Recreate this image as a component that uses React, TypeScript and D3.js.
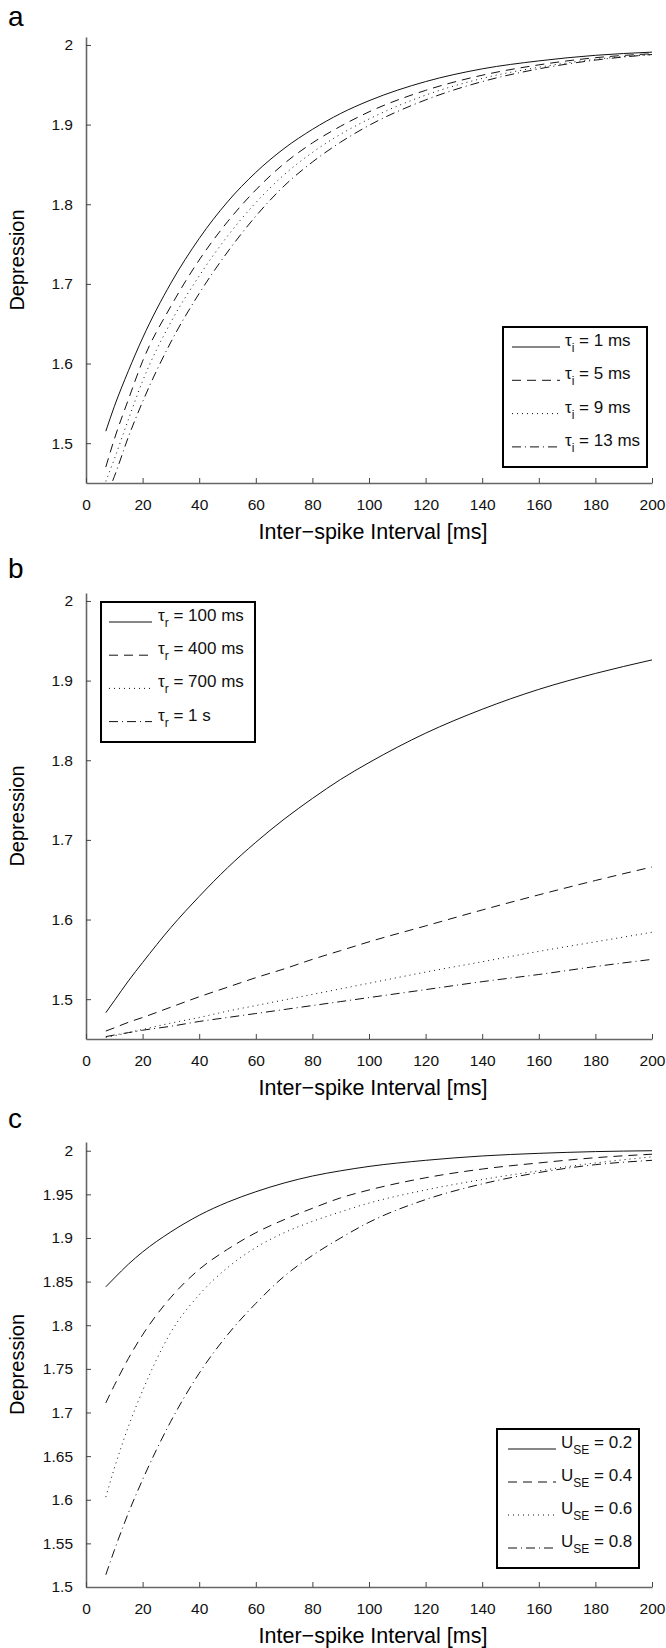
import React, { useEffect, useRef } from "react";
import * as d3 from "d3";

// Page / plot geometry
const WIDTH = 666;
const HEIGHT = 1648;
const PLOT_LEFT = 86;
const PLOT_RIGHT = 652;
const FONT = "'Liberation Sans', Arial, Helvetica, sans-serif";
const AXIS_COLOR = "#666";

// Inter-spike intervals (ms) at which the curves were read
const isi = [7, 10, 15, 20, 30, 40, 50, 60, 70, 80, 90, 100, 120, 140, 160, 180, 200];
const xTicks = [0, 20, 40, 60, 80, 100, 120, 140, 160, 180, 200];
const yTicksAB = [1.5, 1.6, 1.7, 1.8, 1.9, 2];
const yTicksC = [1.5, 1.55, 1.6, 1.65, 1.7, 1.75, 1.8, 1.85, 1.9, 1.95, 2];

// Panel a: inactivation time constant
const tauILabels = ["1 ms", "5 ms", "9 ms", "13 ms"];
const tauI1 = [1.515, 1.546, 1.591, 1.632, 1.701, 1.757, 1.803, 1.84, 1.87, 1.894, 1.914, 1.93, 1.954, 1.97, 1.98, 1.987, 1.991];
const tauI5 = [1.47, 1.505, 1.555, 1.603, 1.672, 1.73, 1.778, 1.818, 1.851, 1.877, 1.898, 1.916, 1.943, 1.962, 1.975, 1.984, 1.989];
const tauI9 = [1.452, 1.48, 1.53, 1.578, 1.652, 1.71, 1.76, 1.802, 1.837, 1.865, 1.888, 1.907, 1.937, 1.958, 1.972, 1.982, 1.988];
const tauI13 = [1.432, 1.458, 1.508, 1.552, 1.627, 1.688, 1.74, 1.785, 1.823, 1.853, 1.878, 1.899, 1.931, 1.954, 1.97, 1.981, 1.988];

// Panel b: recovery time constant
const tauRLabels = ["100 ms", "400 ms", "700 ms", "1 s"];
const tauR100 = [1.483, 1.498, 1.523, 1.546, 1.59, 1.629, 1.665, 1.697, 1.726, 1.752, 1.776, 1.797, 1.834, 1.864, 1.889, 1.909, 1.926];
const tauR400 = [1.46, 1.464, 1.471, 1.477, 1.49, 1.503, 1.515, 1.527, 1.538, 1.55, 1.561, 1.572, 1.592, 1.612, 1.631, 1.649, 1.666];
const tauR700 = [1.452, 1.454, 1.458, 1.462, 1.47, 1.477, 1.485, 1.492, 1.499, 1.506, 1.513, 1.52, 1.534, 1.547, 1.56, 1.572, 1.584];
const tauR1000 = [1.453, 1.455, 1.458, 1.461, 1.466, 1.472, 1.477, 1.482, 1.487, 1.492, 1.497, 1.502, 1.512, 1.522, 1.531, 1.541, 1.55];

// Panel c: utilization of synaptic efficacy
const useLabels = ["0.2", "0.4", "0.6", "0.8"];
const use02 = [1.844, 1.854, 1.87, 1.884, 1.907, 1.926, 1.941, 1.953, 1.963, 1.971, 1.977, 1.982, 1.989, 1.994, 1.997, 1.999, 2.0];
const use04 = [1.711, 1.731, 1.762, 1.789, 1.832, 1.864, 1.887, 1.906, 1.921, 1.934, 1.946, 1.955, 1.969, 1.979, 1.986, 1.992, 1.996];
const use06 = [1.603, 1.636, 1.684, 1.725, 1.792, 1.835, 1.866, 1.889, 1.906, 1.919, 1.93, 1.94, 1.955, 1.967, 1.977, 1.986, 1.993];
const use08 = [1.514, 1.542, 1.585, 1.623, 1.69, 1.745, 1.789, 1.825, 1.856, 1.88, 1.9, 1.918, 1.944, 1.962, 1.975, 1.984, 1.989];

// solid, dashed, dotted, dash-dot
const DASHES = [null, "9,6", "1,4", "9,4,1,4"];

const PANELS = [
  {
    letter: "a", letterY: 26, top: 37, bottom: 483,
    yDomain: [1.45, 2.01], yTicks: yTicksAB,
    series: [tauI1, tauI5, tauI9, tauI13],
    sym: "\u03c4", sub: "i", labels: tauILabels.map((l) => " = " + l),
    legend: { x: 503, y: 327, w: 144, h: 140, lx1: 512, lx2: 560, tx: 565, row0: 347, step: 33.3 }
  },
  {
    letter: "b", letterY: 578, top: 593, bottom: 1039,
    yDomain: [1.45, 2.01], yTicks: yTicksAB,
    series: [tauR100, tauR400, tauR700, tauR1000],
    sym: "\u03c4", sub: "r", labels: tauRLabels.map((l) => " = " + l),
    legend: { x: 101, y: 602, w: 154, h: 140, lx1: 109, lx2: 152, tx: 158, row0: 622, step: 33.2 }
  },
  {
    letter: "c", letterY: 1128, top: 1142, bottom: 1587,
    yDomain: [1.5, 2.01], yTicks: yTicksC,
    series: [use02, use04, use06, use08],
    sym: "U", sub: "SE", labels: useLabels.map((l) => " = " + l),
    legend: { x: 497, y: 1429, w: 142, h: 139, lx1: 508, lx2: 556, tx: 561, row0: 1449, step: 33 }
  }
];

function drawPanel(svg, p, idx) {
  const x = d3.scaleLinear().domain([0, 200]).range([PLOT_LEFT, PLOT_RIGHT]);
  const y = d3.scaleLinear().domain(p.yDomain).range([p.bottom, p.top]);

  svg.append("text")
    .attr("x", 8)
    .attr("y", p.letterY)
    .style("font-family", FONT)
    .style("font-size", "28px")
    .text(p.letter);

  const clipId = "clip-" + idx;
  svg.append("clipPath").attr("id", clipId)
    .append("rect")
    .attr("x", PLOT_LEFT).attr("y", p.top)
    .attr("width", PLOT_RIGHT - PLOT_LEFT).attr("height", p.bottom - p.top);

  const line = d3.line()
    .x((d) => x(d[0]))
    .y((d) => y(d[1]))
    .curve(d3.curveMonotoneX);

  p.series.forEach((vals, i) => {
    svg.append("path")
      .attr("clip-path", `url(#${clipId})`)
      .attr("d", line(isi.map((t, k) => [t, vals[k]])))
      .attr("fill", "none")
      .attr("stroke", "#111")
      .attr("stroke-width", 1)
      .attr("stroke-dasharray", DASHES[i]);
  });

  // axes, ticks pointing inward
  const yAxis = svg.append("g")
    .attr("transform", `translate(${PLOT_LEFT},0)`)
    .call(d3.axisLeft(y).tickValues(p.yTicks).tickSizeInner(-5).tickSizeOuter(0).tickPadding(13)
      .tickFormat((d) => String(+d.toFixed(2))));
  const xAxis = svg.append("g")
    .attr("transform", `translate(0,${p.bottom})`)
    .call(d3.axisBottom(x).tickValues(xTicks).tickSizeInner(-5).tickSizeOuter(0).tickPadding(16));
  [yAxis, xAxis].forEach((g) => {
    g.select(".domain").attr("stroke", AXIS_COLOR).attr("stroke-width", 1.6);
    g.selectAll(".tick line").attr("stroke", "#444");
    g.selectAll(".tick text")
      .attr("fill", "#111")
      .style("font-family", FONT)
      .style("font-size", "15.5px");
  });

  svg.append("text")
    .attr("x", (PLOT_LEFT + PLOT_RIGHT) / 2 + 4)
    .attr("y", p.bottom + 56)
    .attr("text-anchor", "middle")
    .style("font-family", FONT)
    .style("font-size", "21.5px")
    .text("Inter\u2212spike Interval [ms]");

  svg.append("text")
    .attr("transform", `translate(24,${(p.top + p.bottom) / 2}) rotate(-90)`)
    .attr("text-anchor", "middle")
    .style("font-family", FONT)
    .style("font-size", "20px")
    .text("Depression");

  // legend
  const L = p.legend;
  svg.append("rect")
    .attr("x", L.x).attr("y", L.y)
    .attr("width", L.w).attr("height", L.h)
    .attr("fill", "#fff")
    .attr("stroke", "#000")
    .attr("stroke-width", 2);
  p.labels.forEach((lab, i) => {
    const ry = L.row0 + i * L.step;
    svg.append("line")
      .attr("x1", L.lx1).attr("x2", L.lx2)
      .attr("y1", ry).attr("y2", ry)
      .attr("stroke", "#111")
      .attr("stroke-width", 1)
      .attr("stroke-dasharray", DASHES[i]);
    const t = svg.append("text")
      .attr("x", L.tx)
      .attr("y", ry - 1)
      .style("font-family", FONT)
      .style("font-size", "17px")
      .attr("fill", "#111");
    t.append("tspan").text(p.sym);
    t.append("tspan").attr("dy", 6).style("font-size", "12px").text(p.sub);
    t.append("tspan").attr("dy", -6).text(lab);
  });
}

export default function App() {
  const svgRef = useRef(null);

  useEffect(() => {
    const svg = d3.select(svgRef.current);
    svg.selectAll("*").remove();
    PANELS.forEach((p, i) => drawPanel(svg, p, i));
  }, []);

  return (
    <svg
      ref={svgRef}
      width={WIDTH}
      height={HEIGHT}
      style={{ position: "absolute", left: 0, top: 0, background: "#fff" }}
    />
  );
}
